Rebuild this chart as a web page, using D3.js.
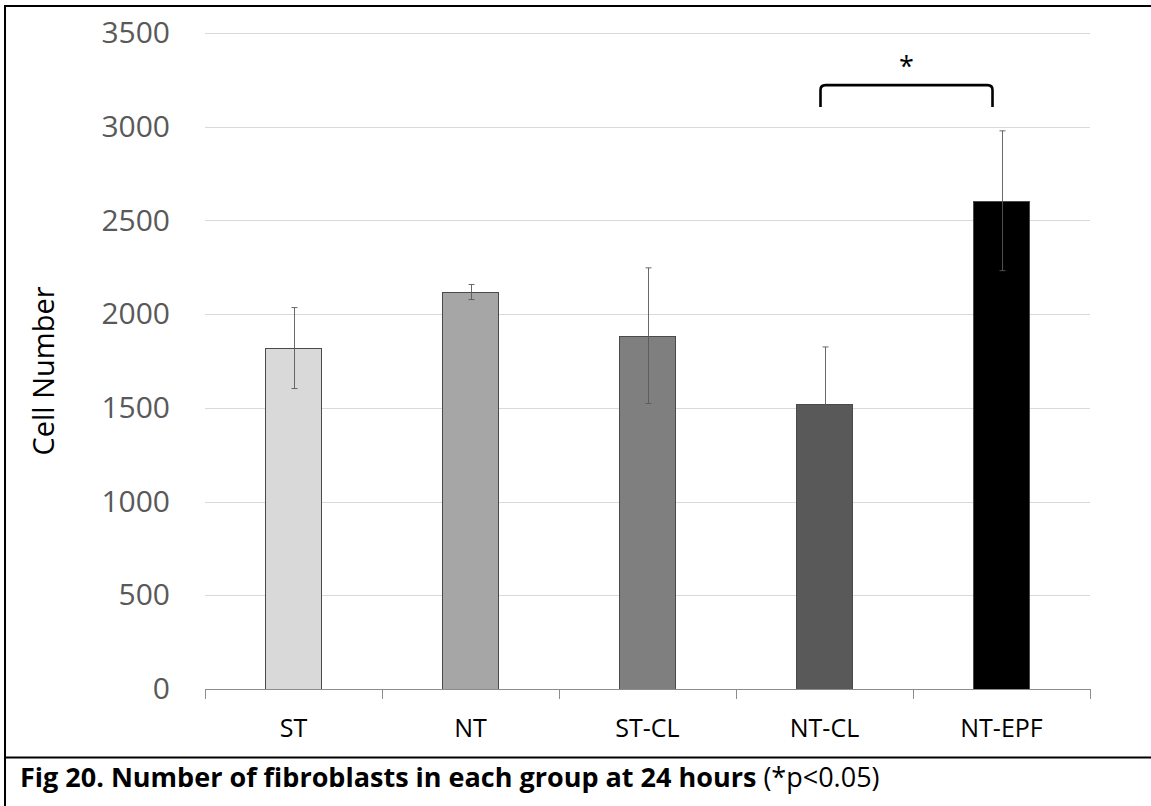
<!DOCTYPE html>
<html>
<head>
<meta charset="utf-8">
<script src="https://cdn.jsdelivr.net/npm/d3@7/dist/d3.min.js"></script>
<style>
  html, body { margin: 0; padding: 0; background: #fff; }
  svg { display: block; }
  text { font-family: "Open Sans", "DejaVu Sans", sans-serif; }
</style>
</head>
<body>
<div id="chart"></div>
<script>
// Fibroblast counts per group at 24 hours (mean and error)
const groups = ["ST", "NT", "ST-CL", "NT-CL", "NT-EPF"];
const cellMeans = [1819, 2118, 1885, 1521, 2605];
const cellErrors = [216, 40, 362, 304, 373];
const barFills = ["#d9d9d9", "#a6a6a6", "#7f7f7f", "#595959", "#000000"];
const yTicks = [0, 500, 1000, 1500, 2000, 2500, 3000, 3500];
const sigPair = ["NT-CL", "NT-EPF"];
const sigLevel = [3105, 3222];   // bracket leg bottom / bracket top, in cell counts

const W = 1151, H = 806;
const svg = d3.select("#chart").append("svg")
  .attr("width", W).attr("height", H);

svg.append("rect").attr("width", W).attr("height", H).attr("fill", "#fff");

// frame: top and left rules, plus the rule above the caption
svg.append("line").attr("x1", 4).attr("x2", W).attr("y1", 6).attr("y2", 6)
  .attr("stroke", "#000").attr("stroke-width", 2);
svg.append("line").attr("x1", 5).attr("x2", 5).attr("y1", 5).attr("y2", H)
  .attr("stroke", "#000").attr("stroke-width", 2);
svg.append("line").attr("x1", 4).attr("x2", W).attr("y1", 757.5).attr("y2", 757.5)
  .attr("stroke", "#000").attr("stroke-width", 2.2);

const x = d3.scaleBand()
  .domain(groups)
  .range([205, 1090])
  .paddingInner(0.6836)
  .paddingOuter(0.3418);

const y = d3.scaleLinear().domain([0, 3500]).range([689, 33]);

// horizontal gridlines
svg.append("g").selectAll("line")
  .data(yTicks.filter(d => d > 0))
  .join("line")
  .attr("x1", 205).attr("x2", 1090)
  .attr("y1", d => Math.round(y(d)) + 0.5)
  .attr("y2", d => Math.round(y(d)) + 0.5)
  .attr("stroke", "#d9d9d9").attr("stroke-width", 1);

// y axis labels
const yAxis = d3.axisLeft(y).tickValues(yTicks).tickFormat(d3.format("d"))
  .tickSize(0).tickPadding(35);
const gy = svg.append("g").attr("transform", "translate(205,0)").call(yAxis);
gy.select(".domain").remove();
gy.selectAll("text")
  .attr("font-family", "Open Sans, sans-serif")
  .attr("font-size", 30)
  .attr("fill", "#595959");

// bars
const cx = d => x(d) + x.bandwidth() / 2;
svg.append("g").selectAll("rect")
  .data(groups)
  .join("rect")
  .attr("x", d => Math.round(x(d)) + 0.5)
  .attr("width", Math.round(x.bandwidth()))
  .attr("y", (d, i) => Math.round(y(cellMeans[i])) + 0.5)
  .attr("height", (d, i) => Math.round(y(0)) - Math.round(y(cellMeans[i])))
  .attr("fill", (d, i) => barFills[i])
  .attr("stroke", "#4a4a4a").attr("stroke-width", 1);

// error bars
const eb = svg.append("g").attr("stroke", "#595959").attr("stroke-width", 0.9);
groups.forEach((g, i) => {
  const xc = Math.round(cx(g)) + 0.5;
  const top = y(cellMeans[i] + cellErrors[i]);
  const bot = y(cellMeans[i] - cellErrors[i]);
  eb.append("line").attr("x1", xc).attr("x2", xc).attr("y1", top).attr("y2", bot);
  eb.append("line").attr("x1", xc - 3).attr("x2", xc + 3).attr("y1", top).attr("y2", top);
  eb.append("line").attr("x1", xc - 3).attr("x2", xc + 3).attr("y1", bot).attr("y2", bot);
});

// x axis baseline with category separators
const xAxisG = svg.append("g");
xAxisG.append("line")
  .attr("x1", 205).attr("x2", 1090)
  .attr("y1", Math.round(y(0)) + 0.5).attr("y2", Math.round(y(0)) + 0.5)
  .attr("stroke", "#8c8c8c").attr("stroke-width", 1);
const step = x.step();
const bounds = d3.range(groups.length + 1).map(i => 205 + i * step);
xAxisG.selectAll("line.sep")
  .data(bounds)
  .join("line").attr("class", "sep")
  .attr("x1", d => Math.round(d) + 0.5).attr("x2", d => Math.round(d) + 0.5)
  .attr("y1", Math.round(y(0))).attr("y2", Math.round(y(0)) + 10)
  .attr("stroke", "#8c8c8c").attr("stroke-width", 1);

xAxisG.selectAll("text")
  .data(groups)
  .join("text")
  .attr("x", d => cx(d))
  .attr("y", 737)
  .attr("text-anchor", "middle")
  .attr("font-size", 25)
  .attr("fill", "#000")
  .text(d => d);

// y axis title
svg.append("text")
  .attr("transform", "translate(54,371) rotate(-90)")
  .attr("text-anchor", "middle")
  .attr("font-size", 29)
  .attr("fill", "#000")
  .text("Cell Number");

// significance bracket
const bx1 = cx(sigPair[0]) - 4;
const bx2 = cx(sigPair[1]) - 9;
const byTop = y(sigLevel[1]);
const byLeg = y(sigLevel[0]);
const r = 5;
svg.append("path")
  .attr("d", `M${bx1},${byLeg} L${bx1},${byTop + r} Q${bx1},${byTop} ${bx1 + r},${byTop}
              L${bx2 - r},${byTop} Q${bx2},${byTop} ${bx2},${byTop + r} L${bx2},${byLeg}`)
  .attr("fill", "none").attr("stroke", "#000").attr("stroke-width", 2.6);
svg.append("text")
  .attr("x", (bx1 + bx2) / 2)
  .attr("y", byTop - 9)
  .attr("text-anchor", "middle")
  .attr("font-size", 27)
  .attr("fill", "#000")
  .text("*");

// caption
const cap = svg.append("text")
  .attr("x", 20).attr("y", 787)
  .attr("font-size", 27)
  .attr("fill", "#000");
cap.append("tspan").attr("font-weight", "bold")
  .text("Fig 20. Number of fibroblasts in each group at 24 hours");
cap.append("tspan").text(" (*p<0.05)");
</script>
</body>
</html>
